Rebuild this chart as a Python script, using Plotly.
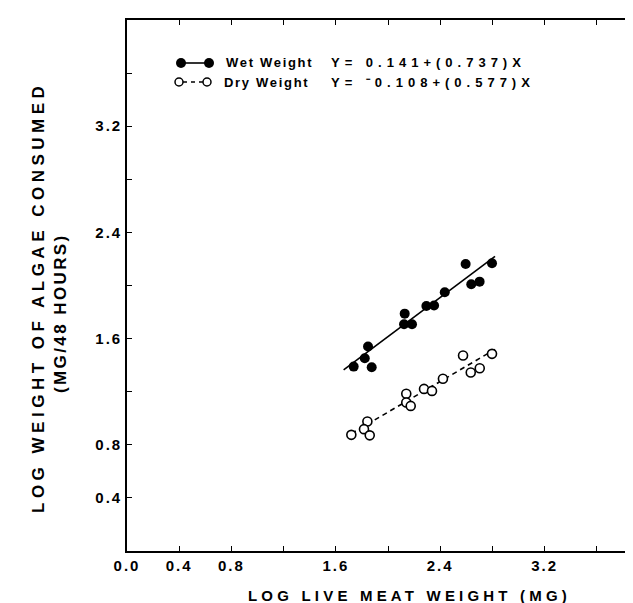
import plotly.graph_objects as go

# ---- data ----
wet_x = [2.595, 2.797, 2.638, 2.702, 2.435, 2.294, 2.353, 2.128, 2.123, 2.184, 1.847, 1.822, 1.737, 1.875]
wet_y = [2.162, 2.167, 2.009, 2.029, 1.949, 1.846, 1.849, 1.788, 1.708, 1.708, 1.540, 1.452, 1.389, 1.384]
dry_x = [2.575, 2.797, 2.634, 2.703, 2.421, 2.276, 2.337, 2.140, 2.140, 2.174, 1.842, 1.816, 1.719, 1.860]
dry_y = [1.473, 1.485, 1.345, 1.377, 1.297, 1.221, 1.206, 1.184, 1.119, 1.093, 0.976, 0.918, 0.875, 0.871]

wet_fit = (0.141, 0.737)     # intercept, slope
dry_fit = (-0.108, 0.577)
wet_fit_x = [1.66, 2.82]
dry_fit_x = [1.72, 2.82]

tick_vals = [0.0, 0.4, 0.8, 1.2, 1.6, 2.0, 2.4, 2.8, 3.2, 3.6]
x_tick_labels = ["0.0", "0.4", "0.8", "", "1.6", "", "2.4", "", "3.2", ""]
y_tick_labels = ["", "0.4", "0.8", "", "1.6", "", "2.4", "", "3.2", ""]

FONT = "Liberation Sans"


def spaced(s, ls):
    return f'<span style="letter-spacing:{ls}px">{s}</span>' if s else ""


fig = go.Figure()


def fit_y(fit, xs):
    return [fit[0] + fit[1] * v for v in xs]


fig.add_trace(go.Scatter(x=wet_fit_x, y=fit_y(wet_fit, wet_fit_x), mode="lines",
                         line=dict(color="black", width=1.6), showlegend=False, hoverinfo="skip"))
fig.add_trace(go.Scatter(x=dry_fit_x, y=fit_y(dry_fit, dry_fit_x), mode="lines",
                         line=dict(color="black", width=1.6, dash="5px,4px"), showlegend=False, hoverinfo="skip"))
fig.add_trace(go.Scatter(x=wet_x, y=wet_y, mode="markers", name="Wet Weight",
                         marker=dict(symbol="circle", size=10, color="black", line=dict(color="black", width=0)),
                         showlegend=False))
fig.add_trace(go.Scatter(x=dry_x, y=dry_y, mode="markers", name="Dry Weight",
                         marker=dict(symbol="circle", size=9, color="white", line=dict(color="black", width=1.6)),
                         showlegend=False))

L, T, W, H = 119, 12, 633, 603
B = 543
PW, PH = W - L, B - T


def px(xp):
    return (xp - L) / PW


def py(yp):
    return (B - yp) / PH


shapes = []
# legend samples (decoration)
r1, r2 = 55, 74
shapes.append(dict(type="line", xref="paper", yref="paper", x0=px(173), x1=px(201), y0=py(r1), y1=py(r1),
                   line=dict(color="black", width=1.6)))
for cx in (173, 201):
    shapes.append(dict(type="circle", xref="paper", yref="paper", xsizemode="pixel", ysizemode="pixel",
                       xanchor=px(cx), yanchor=py(r1), x0=-5, x1=5, y0=-5, y1=5,
                       fillcolor="black", line=dict(color="black", width=0)))
shapes.append(dict(type="line", xref="paper", yref="paper", x0=px(175), x1=px(197), y0=py(r2), y1=py(r2),
                   line=dict(color="black", width=1.6, dash="4px,4px")))
for cx in (171, 199):
    shapes.append(dict(type="circle", xref="paper", yref="paper", xsizemode="pixel", ysizemode="pixel",
                       xanchor=px(cx), yanchor=py(r2), x0=-4, x1=4, y0=-4, y1=4,
                       fillcolor="white", line=dict(color="black", width=1.5)))

annos = []
lf = dict(family=FONT, size=13, color="black", weight="bold")
annos.append(dict(text=spaced("Wet Weight", 1.7), x=px(216), y=py(r1), xref="paper", yref="paper",
                  xanchor="left", yanchor="middle", showarrow=False, font=lf))
annos.append(dict(text=spaced("Dry Weight", 1.7), x=px(214), y=py(r2), xref="paper", yref="paper",
                  xanchor="left", yanchor="middle", showarrow=False, font=lf))
annos.append(dict(text=spaced("Y= 0.141+(0.737)X", 5.0), x=px(321), y=py(r1), xref="paper", yref="paper",
                  xanchor="left", yanchor="middle", showarrow=False, font=lf))
annos.append(dict(text=spaced("Y= \u207b0.108+(0.577)X", 5.0), x=px(321), y=py(r2), xref="paper",
                  yref="paper", xanchor="left", yanchor="middle", showarrow=False, font=lf))
# axis titles
annos.append(dict(text=spaced("LOG LIVE MEAT WEIGHT (MG)", 4.2), x=px(401), y=py(587), xref="paper",
                  yref="paper", xanchor="center", yanchor="middle", showarrow=False,
                  font=dict(family=FONT, size=15, color="black", weight="bold")))
annos.append(dict(text=spaced("LOG WEIGHT OF ALGAE CONSUMED", 4.5), x=px(30), y=py(290), xref="paper",
                  yref="paper", xanchor="center", yanchor="middle", textangle=-90, showarrow=False,
                  font=dict(family=FONT, size=17, color="black", weight="bold")))
annos.append(dict(text=spaced("(MG/48 HOURS)", 2.4), x=px(52), y=py(305), xref="paper", yref="paper",
                  xanchor="center", yanchor="middle", textangle=-90, showarrow=False,
                  font=dict(family=FONT, size=17, color="black", weight="bold")))

axis_common = dict(showgrid=False, zeroline=False, showline=True, linecolor="black", linewidth=1.6,
                   ticks="inside", ticklen=5, tickwidth=1.3, tickcolor="black",
                   tickmode="array", tickvals=tick_vals,
                   tickfont=dict(family=FONT, size=15, color="black", weight="bold"))

fig.update_layout(
    width=W, height=H, autosize=False,
    margin=dict(l=L, r=0, t=T, b=H - B, pad=0),
    paper_bgcolor="white", plot_bgcolor="white",
    showlegend=False,
    xaxis=dict(range=[0, PW / 130.5], ticktext=[spaced(s, 2) for s in x_tick_labels], mirror="ticks",
               **axis_common),
    yaxis=dict(range=[0, 4.0], ticktext=[spaced(s, 2) for s in y_tick_labels], **axis_common),
    shapes=shapes, annotations=annos,
)

fig.write_html("out.html")
